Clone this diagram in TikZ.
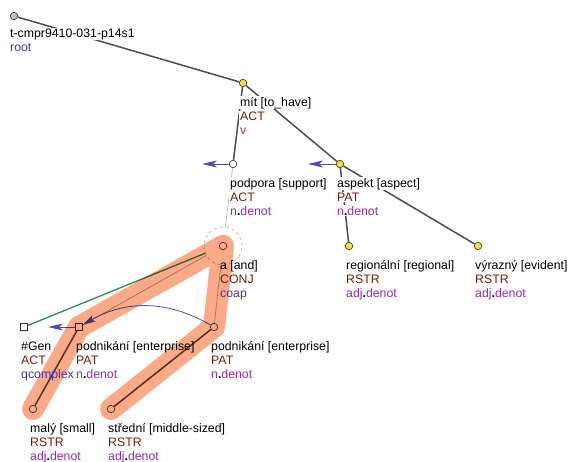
\documentclass[tikz,border=0pt]{standalone}
\usepackage{fontspec}
\setmainfont{Liberation Sans}
\usepackage[usenames,dvipsnames]{xcolor}
\usetikzlibrary{arrows.meta}
\definecolor{fun}{RGB}{125,25,5}
\definecolor{sem}{RGB}{150,40,190}
\definecolor{typ}{RGB}{70,50,190}
\definecolor{corcol}{RGB}{75,75,190}
\definecolor{qcol}{RGB}{50,135,95}
\definecolor{hilite}{RGB}{250,170,135}
\definecolor{yel}{RGB}{245,225,45}
\setlength{\fboxsep}{0.8pt}
\newcommand{\fn}[1]{\textcolor{fun}{#1}}
\newcommand{\sm}[1]{\textcolor{sem}{#1}}
\newcommand{\ty}[1]{\textcolor{typ}{#1}}
\newcommand{\dd}{\textcolor{black}{\textbf{.}}}
\newcommand{\rb}[1]{\colorbox{white}{#1}}
\newcommand{\tlab}[3]{\begin{tabular}[t]{@{}l@{}}\rb{#1}\\\rb{#2}\\\rb{#3}\end{tabular}}
\newcommand{\tlabon}[3]{\begin{tabular}[t]{@{}l@{}}#1\\#2\\#3\end{tabular}}

\begin{document}
\begin{tikzpicture}[x=1pt,y=-1pt,
	every node/.style={font=\fontsize{12.3}{14}\selectfont},
	tnode/.style={circle, draw=black!75, line width=0.7pt, inner sep=0pt, minimum size=7.5pt},
	ynode/.style={tnode, fill=yel},
	wnode/.style={tnode, fill=white},
	gnode/.style={tnode, fill=black!25},
	snode/.style={rectangle, draw=black!80, line width=0.7pt, fill=white, inner sep=0pt, minimum size=7pt},
	ring/.style={circle, draw=black!30, dashed, line width=0.7pt, inner sep=0pt, minimum size=38pt},
	lbl/.style={anchor=base west, inner sep=1pt, xshift=-4.8pt, yshift=-23pt},
	lblon/.style={lbl, xshift=0.8pt},
	edge/.style={draw=black!70, line width=1.5pt},
	faint/.style={draw=black!25, line width=0.8pt},
	thinedge/.style={draw=black!40, line width=0.6pt},
	qedge/.style={draw=qcol, line width=1.3pt},
	coref/.style={draw=corcol, line width=0.8pt, -{Stealth[length=15pt,width=7pt,inset=4pt]}},
	corarc/.style={draw=corcol, line width=0.8pt, -{Stealth[length=13pt,width=7pt,inset=3pt]}},
	band/.style={draw=hilite, line width=22pt, line cap=round, line join=round}]
	\useasboundingbox (0,0) rectangle (568,461);
	\node[gnode] (root) at (14,16) {};
	\node[ynode] (mit) at (243,83) {};
	\node[wnode] (podpora) at (233,164) {};
	\node[ynode] (aspekt) at (340,164) {};
	\node[wnode] (a) at (223,246) {};
	\node[ring] (aring) at (223,246) {};
	\node[ynode] (regional) at (349,246) {};
	\node[ynode] (vyrazny) at (478,246) {};
	\node[snode] (gen) at (24,327) {};
	\node[snode] (pod1) at (79,327) {};
	\node[wnode] (pod2) at (214,327) {};
	\node[wnode] (maly) at (33,409) {};
	\node[wnode] (stredni) at (111,409) {};
	\coordinate (podporae) at (202,164);
	\coordinate (aspekte) at (308,164);
	\coordinate (pod1e) at (48,327);

	\draw[edge] (root) -- (mit);
	\draw[edge] (mit) -- (podpora);
	\draw[edge] (mit) -- (aspekt);
	\draw[edge] (aspekt) -- (regional);
	\draw[edge] (aspekt) -- (vyrazny);
	\draw[edge] (pod1) -- (maly);
	\draw[edge] (pod2) -- (stredni);
	\draw[faint] (podpora) -- (aring);
	\draw[thinedge] (aring) -- (pod1);
	\draw[thinedge] (aring) -- (pod2);
	\draw[qedge] (gen) -- (aring);
	\draw[coref] (podpora) -- (podporae);
	\draw[coref] (aspekt) -- (aspekte);
	\draw[coref] (pod1) -- (pod1e);
	\draw[corarc] (pod2) to[bend right=30] (pod1);

	\begin{scope}[blend mode=multiply]
		\draw[band] (maly.center) -- (pod1.center) -- (a.center) -- (pod2.center) -- (stredni.center);
	\end{scope}

	\node[lbl, xshift=-1pt, yshift=2pt] (rootl) at (root) {\begin{tabular}[t]{@{}l@{}}\rb{t-cmpr9410-031-p14s1}\\\rb{\ty{root}}\end{tabular}};
	\node[lbl] (mitl) at (mit) {\tlab{mít [to\_have]}{\fn{ACT}}{\sm{v}}};
	\node[lbl] (podporal) at (podpora) {\tlab{podpora [support]}{\fn{ACT}}{\sm{n\dd denot}}};
	\node[lbl] (aspektl) at (aspekt) {\tlab{aspekt [aspect]}{\fn{PAT}}{\sm{n\dd denot}}};
	\node[lblon] (al) at (a) {\tlabon{a [and]}{\fn{CONJ}}{\ty{coap}}};
	\node[lbl] (regionall) at (regional) {\tlab{regionální [regional]}{\fn{RSTR}}{\sm{adj\dd denot}}};
	\node[lbl] (vyraznyl) at (vyrazny) {\tlab{výrazný [evident]}{\fn{RSTR}}{\sm{adj\dd denot}}};
	\node[lblon] (genl) at (gen) {\tlabon{\#Gen}{\fn{ACT}}{\ty{qcomplex}}};
	\node[lblon] (pod1l) at (pod1) {\tlabon{podnikání [enterprise]}{\fn{PAT}}{\sm{n\dd denot}}};
	\node[lblon] (pod2l) at (pod2) {\tlabon{podnikání [enterprise]}{\fn{PAT}}{\sm{n\dd denot}}};
	\node[lblon] (malyl) at (maly) {\tlabon{malý [small]}{\fn{RSTR}}{\sm{adj\dd denot}}};
	\node[lblon] (strednil) at (stredni) {\tlabon{střední [middle-sized]}{\fn{RSTR}}{\sm{adj\dd denot}}};
\end{tikzpicture}
\end{document}
